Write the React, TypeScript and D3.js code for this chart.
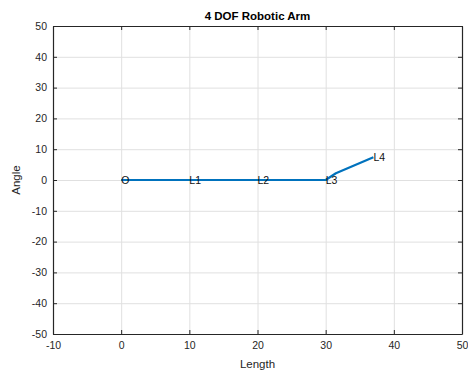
import { useEffect, useRef } from "react";
import * as d3 from "d3";

const armX = [0, 10, 20, 30, 31.5, 37];
const armY = [0, 0, 0, 0, 2.2, 7.4];
const jointLabels = ["O", "L1", "L2", "L3", "", "L4"];
const xTicks = [-10, 0, 10, 20, 30, 40, 50];
const yTicks = [-50, -40, -30, -20, -10, 0, 10, 20, 30, 40, 50];

const W = 468;
const H = 376;
const margin = { top: 26, right: 6, bottom: 42, left: 53 };

export default function App() {
  const svgRef = useRef<SVGSVGElement>(null);

  useEffect(() => {
    if (!svgRef.current) return;
    const svg = d3.select(svgRef.current);
    svg.selectAll("*").remove();

    const x = d3.scaleLinear().domain([-10, 50]).range([margin.left, W - margin.right]);
    const y = d3.scaleLinear().domain([-50, 50]).range([H - margin.bottom, margin.top]);
    const font = "'Liberation Sans', Arial, sans-serif";
    const axisColor = "#262626";
    const fmt = (d: d3.NumberValue) => String(d);

    svg.append("rect").attr("width", W).attr("height", H).attr("fill", "#fff");

    // grid
    const grid = svg.append("g").attr("stroke", "#e0e0e0").attr("stroke-width", 1);
    grid.selectAll("line.gx")
      .data(xTicks)
      .join("line")
      .attr("x1", (d) => x(d) + 0.5)
      .attr("x2", (d) => x(d) + 0.5)
      .attr("y1", y(-50))
      .attr("y2", y(50));
    grid.selectAll("line.gy")
      .data(yTicks)
      .join("line")
      .attr("class", "gy")
      .attr("x1", x(-10))
      .attr("x2", x(50))
      .attr("y1", (d) => y(d) + 0.5)
      .attr("y2", (d) => y(d) + 0.5);

    // axes (ticks inward, box on)
    const tickLen = 4;
    const bottom = svg.append("g").attr("transform", `translate(0,${y(-50)})`)
      .call(d3.axisBottom(x).tickValues(xTicks).tickSizeInner(-tickLen).tickSizeOuter(0).tickPadding(8).tickFormat(fmt));
    const top = svg.append("g").attr("transform", `translate(0,${y(50)})`)
      .call(d3.axisTop(x).tickValues(xTicks).tickSizeInner(-tickLen).tickSizeOuter(0).tickFormat(() => ""));
    const left = svg.append("g").attr("transform", `translate(${x(-10)},0)`)
      .call(d3.axisLeft(y).tickValues(yTicks).tickSizeInner(-tickLen).tickSizeOuter(0).tickPadding(6).tickFormat(fmt));
    const right = svg.append("g").attr("transform", `translate(${x(50)},0)`)
      .call(d3.axisRight(y).tickValues(yTicks).tickSizeInner(-tickLen).tickSizeOuter(0).tickFormat(() => ""));
    [bottom, top, left, right].forEach((g) => {
      g.select(".domain").attr("stroke", axisColor).attr("stroke-width", 1.2);
      g.selectAll(".tick line").attr("stroke", axisColor);
      g.selectAll(".tick text")
        .attr("fill", axisColor)
        .attr("font-family", font)
        .attr("font-size", 10.5);
    });

    // arm
    const pts = armX.map((v, i) => [v, armY[i]] as [number, number]);
    svg.append("path")
      .datum(pts)
      .attr("fill", "none")
      .attr("stroke", "#0072BD")
      .attr("stroke-width", 2.2)
      .attr("stroke-linejoin", "round")
      .attr("d", d3.line<[number, number]>().x((d) => x(d[0])).y((d) => y(d[1])));

    svg.append("g")
      .selectAll("text")
      .data(pts.filter((_, i) => jointLabels[i]))
      .join("text")
      .attr("x", (d) => x(d[0]))
      .attr("y", (d) => y(d[1]))
      .attr("dy", "0.35em")
      .attr("font-family", font)
      .attr("font-size", 10.5)
      .attr("fill", "#111")
      .text((d) => jointLabels[pts.indexOf(d)]);

    // titles
    svg.append("text")
      .attr("x", (x(-10) + x(50)) / 2)
      .attr("y", 20)
      .attr("text-anchor", "middle")
      .attr("font-family", font)
      .attr("font-weight", "bold")
      .attr("font-size", 11.5)
      .attr("fill", "#000")
      .text("4 DOF Robotic Arm");
    svg.append("text")
      .attr("x", (x(-10) + x(50)) / 2)
      .attr("y", 368)
      .attr("text-anchor", "middle")
      .attr("font-family", font)
      .attr("font-size", 11.5)
      .attr("fill", axisColor)
      .text("Length");
    svg.append("text")
      .attr("transform", `translate(20,${(y(-50) + y(50)) / 2}) rotate(-90)`)
      .attr("text-anchor", "middle")
      .attr("font-family", font)
      .attr("font-size", 11.5)
      .attr("fill", axisColor)
      .text("Angle");
  }, []);

  return (
    <svg
      ref={svgRef}
      width={W}
      height={H}
      style={{ position: "absolute", left: 0, top: 0, display: "block" }}
    />
  );
}
